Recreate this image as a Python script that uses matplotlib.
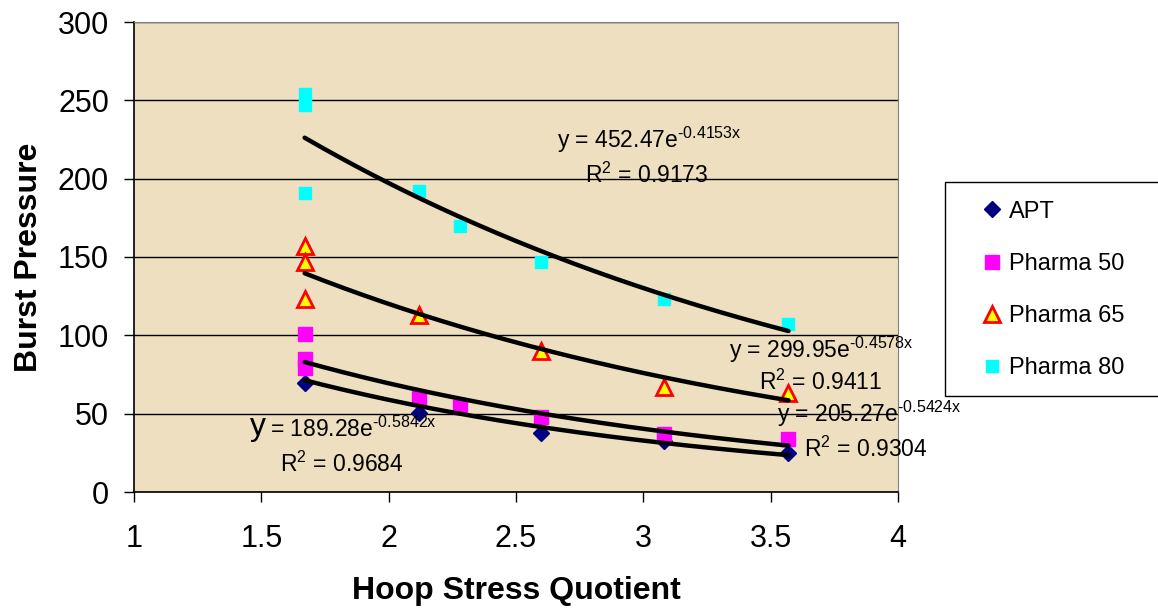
import numpy as np
import matplotlib
matplotlib.use("Agg")
import matplotlib.pyplot as plt
from matplotlib.patches import Rectangle

plt.rcParams['font.family'] = ['Liberation Sans', 'DejaVu Sans']
plt.rcParams['mathtext.default'] = 'regular'

# data
apt_x = [1.67, 2.12, 2.60, 3.08, 3.57]
apt_y = [69.5, 50.5, 37.5, 32.5, 25]

p50_x = [1.67, 1.67, 1.67, 2.12, 2.28, 2.60, 3.08, 3.57]
p50_y = [101, 85, 79, 60, 54, 48, 37, 34]

p65_x = [1.67, 1.67, 1.67, 2.12, 2.60, 3.08, 3.57]
p65_y = [157, 147, 123, 113, 90, 67, 63]

p80_x = [1.67, 1.67, 1.67, 2.12, 2.28, 2.60, 3.08, 3.57]
p80_y = [254, 247, 191, 192, 170, 147, 123, 107]

# exponential trendline coefficients (a * exp(b x)) and R^2 as shown
fits = {
    'APT': (189.28, -0.5842, 0.9684),
    'Pharma 50': (205.27, -0.5424, 0.9304),
    'Pharma 65': (299.95, -0.4578, 0.9411),
    'Pharma 80': (452.47, -0.4153, 0.9173),
}
trend_x = [1.67, 3.57]

W, H = 1158, 612
fig = plt.figure(figsize=(W/100, H/100), dpi=100)
ax = fig.add_axes([134/W, 1 - 492/H, (898-134)/W, (492-22)/H])
ax.set_facecolor('#EEDFC0')

ax.plot(apt_x, apt_y, 'D', color='#000080', ms=8.5, mec='#000080', label='APT', zorder=3)
ax.plot(p50_x, p50_y, 's', color='#FF00FF', ms=10.5, mec='#FF00FF', label='Pharma 50', zorder=3)
ax.plot(p65_x, p65_y, '^', color='#FFFF00', ms=11, mec='#FF0000', mew=2, label='Pharma 65', zorder=3)
ax.plot(p80_x, p80_y, 's', color='#00FFFF', ms=9, mec='#00FFFF', label='Pharma 80', zorder=3)

xs = np.linspace(trend_x[0], trend_x[1], 200)
for name, (a, b, r2) in fits.items():
    ax.plot(xs, a * np.exp(b * xs), color='black', lw=3.2, zorder=4, solid_capstyle='round')


def eq(a, b):
    # hyphen instead of the long math minus, like the original
    return 'y = %.2fe$^{\u2010%.4fx}$' % (a, abs(b))


# trendline equations
eq_fs = 16.5
kw = dict(fontsize=eq_fs, ha='left', va='center', zorder=5, clip_on=False)
ax.text(2.66, 225, eq(*fits['Pharma 80'][:2]), **kw)
ax.text(2.77, 202, r'R$^2$ = %.4f' % fits['Pharma 80'][2], **kw)
ax.text(3.337, 91, eq(*fits['Pharma 65'][:2]), **kw)
ax.text(3.455, 70, r'R$^2$ = %.4f' % fits['Pharma 65'][2], **kw)
ax.text(3.525, 50, eq(*fits['Pharma 50'][:2]), **kw)
ax.text(3.63, 27, r'R$^2$ = %.4f' % fits['Pharma 50'][2], **kw)
ax.text(1.455, 41.5, 'y', fontsize=23, ha='left', va='center', zorder=5)
ax.text(1.535, 40, eq(*fits['APT'][:2])[2:], **kw)
ax.text(1.573, 18, r'R$^2$ = %.4f' % fits['APT'][2], **kw)

ax.set_xlim(1, 4)
ax.set_ylim(0, 300)
ax.set_xticks([1, 1.5, 2, 2.5, 3, 3.5, 4])
ax.set_xticklabels(['1', '1.5', '2', '2.5', '3', '3.5', '4'])
ax.set_yticks(range(0, 301, 50))
ax.tick_params(labelsize=22, direction='out', length=7, width=1)
ax.tick_params(axis='x', pad=16)
ax.tick_params(axis='y', pad=11)
ax.yaxis.grid(True, color='black', lw=1)
ax.set_axisbelow(True)
for s in ['top', 'right']:
    ax.spines[s].set_color('#808080')
ax.spines['left'].set_linewidth(1.2)
ax.spines['bottom'].set_linewidth(1.2)

ax.set_xlabel('Hoop Stress Quotient', fontsize=23, fontweight='bold', labelpad=16)
ax.set_ylabel('Burst Pressure', fontsize=23, fontweight='bold', labelpad=10)

# legend box runs off the right edge in the reference
fig.patches.append(Rectangle((945/W, 1 - 396/H), 260/W, (396-182)/H,
                             transform=fig.transFigure, facecolor='white',
                             edgecolor='black', lw=1))
leg = fig.legend(loc='center left', bbox_to_anchor=(983/W, 1 - 290/H),
                 fontsize=17, frameon=False, labelspacing=1.28,
                 handletextpad=0.3, handlelength=0.8, borderpad=0,
                 borderaxespad=0)

fig.savefig('out.png', dpi=100)
